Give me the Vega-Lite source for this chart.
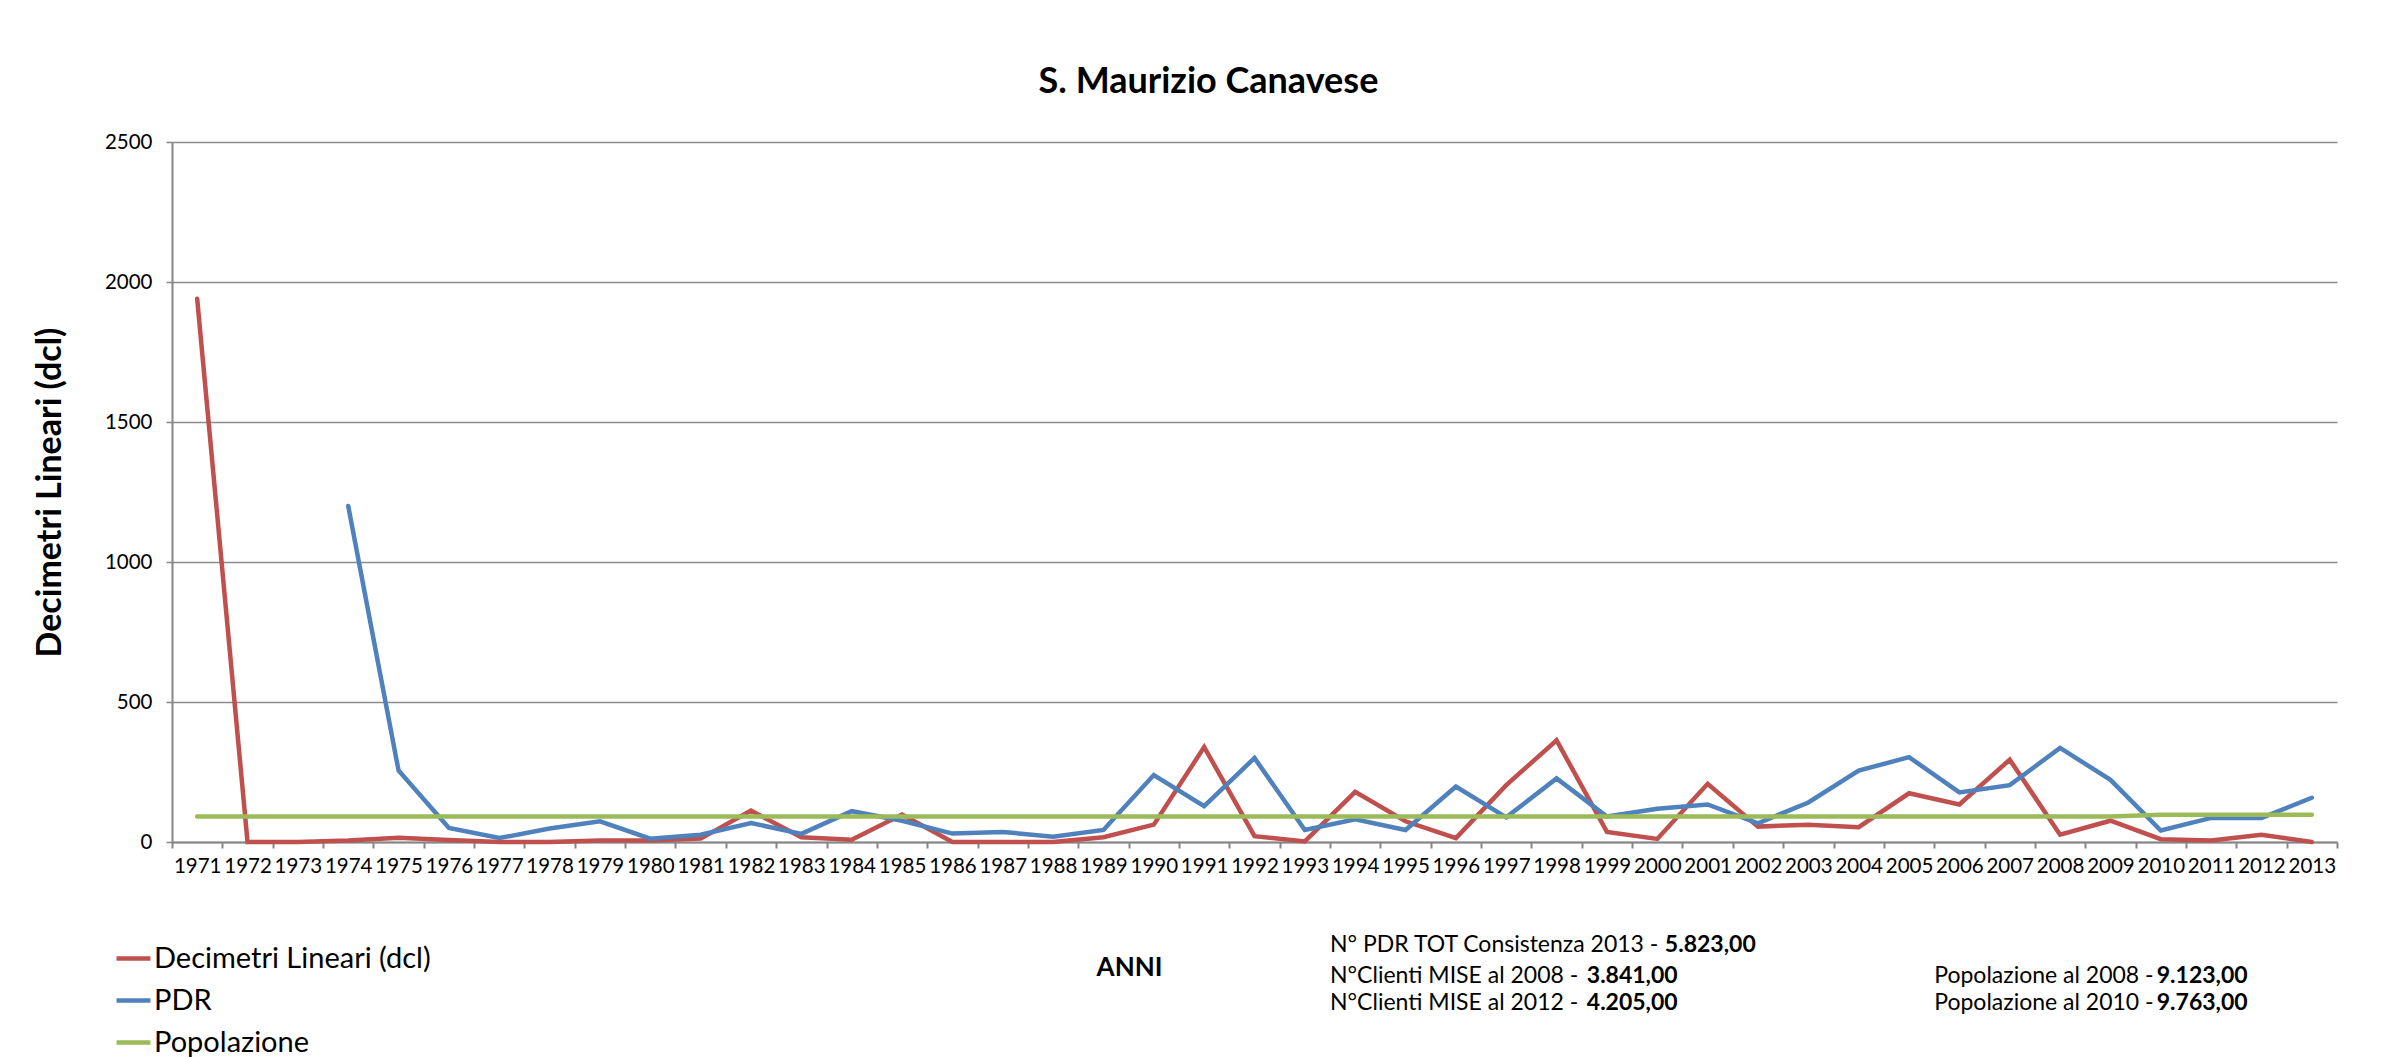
{
  "$schema": "https://vega.github.io/schema/vega-lite/v6.json",
  "width": 2165,
  "height": 700,
  "autosize": {"type": "none"},
  "padding": {"left": 172, "top": 142, "right": 56, "bottom": 215},
  "background": "white",
  "title": {
    "text": "S. Maurizio Canavese",
    "font": "Lato",
    "fontSize": 36,
    "fontWeight": "bold",
    "color": "black",
    "anchor": "middle",
    "dx": -46,
    "offset": 31
  },
  "data": {
    "values": [
      {"anno": 1971, "serie": "Decimetri Lineari (dcl)", "valore": 1940},
      {"anno": 1972, "serie": "Decimetri Lineari (dcl)", "valore": 0},
      {"anno": 1973, "serie": "Decimetri Lineari (dcl)", "valore": 0},
      {"anno": 1974, "serie": "Decimetri Lineari (dcl)", "valore": 5},
      {"anno": 1975, "serie": "Decimetri Lineari (dcl)", "valore": 15},
      {"anno": 1976, "serie": "Decimetri Lineari (dcl)", "valore": 7},
      {"anno": 1977, "serie": "Decimetri Lineari (dcl)", "valore": 0},
      {"anno": 1978, "serie": "Decimetri Lineari (dcl)", "valore": 0},
      {"anno": 1979, "serie": "Decimetri Lineari (dcl)", "valore": 5},
      {"anno": 1980, "serie": "Decimetri Lineari (dcl)", "valore": 5},
      {"anno": 1981, "serie": "Decimetri Lineari (dcl)", "valore": 12},
      {"anno": 1982, "serie": "Decimetri Lineari (dcl)", "valore": 112},
      {"anno": 1983, "serie": "Decimetri Lineari (dcl)", "valore": 17},
      {"anno": 1984, "serie": "Decimetri Lineari (dcl)", "valore": 8},
      {"anno": 1985, "serie": "Decimetri Lineari (dcl)", "valore": 98},
      {"anno": 1986, "serie": "Decimetri Lineari (dcl)", "valore": 0},
      {"anno": 1987, "serie": "Decimetri Lineari (dcl)", "valore": 0},
      {"anno": 1988, "serie": "Decimetri Lineari (dcl)", "valore": 0},
      {"anno": 1989, "serie": "Decimetri Lineari (dcl)", "valore": 17},
      {"anno": 1990, "serie": "Decimetri Lineari (dcl)", "valore": 62},
      {"anno": 1991, "serie": "Decimetri Lineari (dcl)", "valore": 339},
      {"anno": 1992, "serie": "Decimetri Lineari (dcl)", "valore": 21},
      {"anno": 1993, "serie": "Decimetri Lineari (dcl)", "valore": 2},
      {"anno": 1994, "serie": "Decimetri Lineari (dcl)", "valore": 179},
      {"anno": 1995, "serie": "Decimetri Lineari (dcl)", "valore": 74},
      {"anno": 1996, "serie": "Decimetri Lineari (dcl)", "valore": 14},
      {"anno": 1997, "serie": "Decimetri Lineari (dcl)", "valore": 203},
      {"anno": 1998, "serie": "Decimetri Lineari (dcl)", "valore": 363},
      {"anno": 1999, "serie": "Decimetri Lineari (dcl)", "valore": 36},
      {"anno": 2000, "serie": "Decimetri Lineari (dcl)", "valore": 11},
      {"anno": 2001, "serie": "Decimetri Lineari (dcl)", "valore": 208},
      {"anno": 2002, "serie": "Decimetri Lineari (dcl)", "valore": 55},
      {"anno": 2003, "serie": "Decimetri Lineari (dcl)", "valore": 62},
      {"anno": 2004, "serie": "Decimetri Lineari (dcl)", "valore": 53},
      {"anno": 2005, "serie": "Decimetri Lineari (dcl)", "valore": 174},
      {"anno": 2006, "serie": "Decimetri Lineari (dcl)", "valore": 134},
      {"anno": 2007, "serie": "Decimetri Lineari (dcl)", "valore": 294},
      {"anno": 2008, "serie": "Decimetri Lineari (dcl)", "valore": 26},
      {"anno": 2009, "serie": "Decimetri Lineari (dcl)", "valore": 76},
      {"anno": 2010, "serie": "Decimetri Lineari (dcl)", "valore": 10},
      {"anno": 2011, "serie": "Decimetri Lineari (dcl)", "valore": 5},
      {"anno": 2012, "serie": "Decimetri Lineari (dcl)", "valore": 26},
      {"anno": 2013, "serie": "Decimetri Lineari (dcl)", "valore": 0},
      {"anno": 1974, "serie": "PDR", "valore": 1200},
      {"anno": 1975, "serie": "PDR", "valore": 255},
      {"anno": 1976, "serie": "PDR", "valore": 50},
      {"anno": 1977, "serie": "PDR", "valore": 14},
      {"anno": 1978, "serie": "PDR", "valore": 48},
      {"anno": 1979, "serie": "PDR", "valore": 74},
      {"anno": 1980, "serie": "PDR", "valore": 12},
      {"anno": 1981, "serie": "PDR", "valore": 26},
      {"anno": 1982, "serie": "PDR", "valore": 68},
      {"anno": 1983, "serie": "PDR", "valore": 29},
      {"anno": 1984, "serie": "PDR", "valore": 110},
      {"anno": 1985, "serie": "PDR", "valore": 76},
      {"anno": 1986, "serie": "PDR", "valore": 30},
      {"anno": 1987, "serie": "PDR", "valore": 36},
      {"anno": 1988, "serie": "PDR", "valore": 19},
      {"anno": 1989, "serie": "PDR", "valore": 43},
      {"anno": 1990, "serie": "PDR", "valore": 239},
      {"anno": 1991, "serie": "PDR", "valore": 128},
      {"anno": 1992, "serie": "PDR", "valore": 300},
      {"anno": 1993, "serie": "PDR", "valore": 43},
      {"anno": 1994, "serie": "PDR", "valore": 81},
      {"anno": 1995, "serie": "PDR", "valore": 43},
      {"anno": 1996, "serie": "PDR", "valore": 198},
      {"anno": 1997, "serie": "PDR", "valore": 88},
      {"anno": 1998, "serie": "PDR", "valore": 227},
      {"anno": 1999, "serie": "PDR", "valore": 91},
      {"anno": 2000, "serie": "PDR", "valore": 119},
      {"anno": 2001, "serie": "PDR", "valore": 134},
      {"anno": 2002, "serie": "PDR", "valore": 67},
      {"anno": 2003, "serie": "PDR", "valore": 141},
      {"anno": 2004, "serie": "PDR", "valore": 255},
      {"anno": 2005, "serie": "PDR", "valore": 303},
      {"anno": 2006, "serie": "PDR", "valore": 177},
      {"anno": 2007, "serie": "PDR", "valore": 203},
      {"anno": 2008, "serie": "PDR", "valore": 336},
      {"anno": 2009, "serie": "PDR", "valore": 222},
      {"anno": 2010, "serie": "PDR", "valore": 41},
      {"anno": 2011, "serie": "PDR", "valore": 86},
      {"anno": 2012, "serie": "PDR", "valore": 86},
      {"anno": 2013, "serie": "PDR", "valore": 158},
      {"anno": 1971, "serie": "Popolazione", "valore": 91.23},
      {"anno": 1972, "serie": "Popolazione", "valore": 91.23},
      {"anno": 1973, "serie": "Popolazione", "valore": 91.23},
      {"anno": 1974, "serie": "Popolazione", "valore": 91.23},
      {"anno": 1975, "serie": "Popolazione", "valore": 91.23},
      {"anno": 1976, "serie": "Popolazione", "valore": 91.23},
      {"anno": 1977, "serie": "Popolazione", "valore": 91.23},
      {"anno": 1978, "serie": "Popolazione", "valore": 91.23},
      {"anno": 1979, "serie": "Popolazione", "valore": 91.23},
      {"anno": 1980, "serie": "Popolazione", "valore": 91.23},
      {"anno": 1981, "serie": "Popolazione", "valore": 91.23},
      {"anno": 1982, "serie": "Popolazione", "valore": 91.23},
      {"anno": 1983, "serie": "Popolazione", "valore": 91.23},
      {"anno": 1984, "serie": "Popolazione", "valore": 91.23},
      {"anno": 1985, "serie": "Popolazione", "valore": 91.23},
      {"anno": 1986, "serie": "Popolazione", "valore": 91.23},
      {"anno": 1987, "serie": "Popolazione", "valore": 91.23},
      {"anno": 1988, "serie": "Popolazione", "valore": 91.23},
      {"anno": 1989, "serie": "Popolazione", "valore": 91.23},
      {"anno": 1990, "serie": "Popolazione", "valore": 91.23},
      {"anno": 1991, "serie": "Popolazione", "valore": 91.23},
      {"anno": 1992, "serie": "Popolazione", "valore": 91.23},
      {"anno": 1993, "serie": "Popolazione", "valore": 91.23},
      {"anno": 1994, "serie": "Popolazione", "valore": 91.23},
      {"anno": 1995, "serie": "Popolazione", "valore": 91.23},
      {"anno": 1996, "serie": "Popolazione", "valore": 91.23},
      {"anno": 1997, "serie": "Popolazione", "valore": 91.23},
      {"anno": 1998, "serie": "Popolazione", "valore": 91.23},
      {"anno": 1999, "serie": "Popolazione", "valore": 91.23},
      {"anno": 2000, "serie": "Popolazione", "valore": 91.23},
      {"anno": 2001, "serie": "Popolazione", "valore": 91.23},
      {"anno": 2002, "serie": "Popolazione", "valore": 91.23},
      {"anno": 2003, "serie": "Popolazione", "valore": 91.23},
      {"anno": 2004, "serie": "Popolazione", "valore": 91.23},
      {"anno": 2005, "serie": "Popolazione", "valore": 91.23},
      {"anno": 2006, "serie": "Popolazione", "valore": 91.23},
      {"anno": 2007, "serie": "Popolazione", "valore": 91.23},
      {"anno": 2008, "serie": "Popolazione", "valore": 91.23},
      {"anno": 2009, "serie": "Popolazione", "valore": 91.23},
      {"anno": 2010, "serie": "Popolazione", "valore": 97.63},
      {"anno": 2011, "serie": "Popolazione", "valore": 97.63},
      {"anno": 2012, "serie": "Popolazione", "valore": 97.63},
      {"anno": 2013, "serie": "Popolazione", "valore": 97.63}
    ]
  },
  "layer": [
    {
      "mark": {"type": "line", "strokeWidth": 4.5, "strokeJoin": "miter", "strokeCap": "round"},
      "encoding": {
        "x": {
          "field": "anno",
          "type": "ordinal",
          "bandPosition": 0.5,
          "scale": {"type": "band", "paddingInner": 0, "paddingOuter": 0},
          "axis": {
            "title": "ANNI",
            "titleFont": "Lato",
            "titleFontSize": 26,
            "titleFontWeight": "bold",
            "titleColor": "black",
            "titleX": 957,
            "titleY": 125,
            "titleAlign": "center",
            "titleBaseline": "middle",
            "labelAngle": 0,
            "labelFont": "Lato",
            "labelFontSize": 20.5,
            "labelColor": "black",
            "labelPadding": 8,
            "labelOverlap": false,
            "tickBand": "extent",
            "tickSize": 6,
            "tickWidth": 2,
            "tickColor": "#868686",
            "domainColor": "#868686",
            "domainWidth": 2,
            "grid": false
          }
        },
        "y": {
          "field": "valore",
          "type": "quantitative",
          "scale": {"domain": [0, 2500], "nice": false},
          "axis": {
            "title": "Decimetri Lineari (dcl)",
            "titleFont": "Lato",
            "titleFontSize": 34,
            "titleFontWeight": "bold",
            "titleColor": "black",
            "titleAngle": -90,
            "titleX": -122,
            "titleY": 350,
            "titleAlign": "center",
            "titleBaseline": "middle",
            "values": [0, 500, 1000, 1500, 2000, 2500],
            "format": "d",
            "labelFont": "Lato",
            "labelFontSize": 20.5,
            "labelColor": "black",
            "labelPadding": 14,
            "tickSize": 6,
            "tickWidth": 1.5,
            "tickColor": "#868686",
            "domainColor": "#868686",
            "domainWidth": 2,
            "grid": true,
            "gridColor": "#8c8c8c",
            "gridWidth": 1.5
          }
        },
        "color": {
          "field": "serie",
          "type": "nominal",
          "scale": {
            "domain": ["Decimetri Lineari (dcl)", "PDR", "Popolazione"],
            "range": ["#C0504D", "#4F81BD", "#9BBB59"]
          },
          "legend": {
            "orient": "none",
            "legendX": -58,
            "legendY": 797,
            "direction": "vertical",
            "title": null,
            "symbolType": "stroke",
            "symbolStrokeWidth": 4.5,
            "symbolSize": 1150,
            "labelFont": "Lato",
            "labelFontSize": 29,
            "labelColor": "black",
            "labelLimit": 0,
            "labelOffset": 1,
            "rowPadding": 7
          }
        }
      }
    },
    {
      "data": {"values": [{}]},
      "mark": {"type": "text", "align": "left", "baseline": "middle", "font": "Lato", "fontSize": 23, "color": "black", "text": "N° PDR TOT Consistenza 2013 -"},
      "encoding": {"x": {"datum": 1994, "type": "ordinal", "bandPosition": 0}, "y": {"datum": -368, "type": "quantitative"}}
    },
    {
      "data": {"values": [{}]},
      "mark": {"type": "text", "align": "left", "baseline": "middle", "font": "Lato", "fontSize": 23, "fontWeight": "bold", "color": "black", "text": "5.823,00"},
      "encoding": {"x": {"datum": 2000, "type": "ordinal", "bandPosition": 0.65}, "y": {"datum": -368, "type": "quantitative"}}
    },
    {
      "data": {"values": [{}]},
      "mark": {"type": "text", "align": "left", "baseline": "middle", "font": "Lato", "fontSize": 23, "color": "black", "text": "N°Clienti MISE al 2008 -"},
      "encoding": {"x": {"datum": 1994, "type": "ordinal", "bandPosition": 0}, "y": {"datum": -478, "type": "quantitative"}}
    },
    {
      "data": {"values": [{}]},
      "mark": {"type": "text", "align": "left", "baseline": "middle", "font": "Lato", "fontSize": 23, "fontWeight": "bold", "color": "black", "text": "3.841,00"},
      "encoding": {"x": {"datum": 1999, "type": "ordinal", "bandPosition": 0.1}, "y": {"datum": -478, "type": "quantitative"}}
    },
    {
      "data": {"values": [{}]},
      "mark": {"type": "text", "align": "left", "baseline": "middle", "font": "Lato", "fontSize": 23, "color": "black", "text": "N°Clienti MISE al 2012 -"},
      "encoding": {"x": {"datum": 1994, "type": "ordinal", "bandPosition": 0}, "y": {"datum": -575, "type": "quantitative"}}
    },
    {
      "data": {"values": [{}]},
      "mark": {"type": "text", "align": "left", "baseline": "middle", "font": "Lato", "fontSize": 23, "fontWeight": "bold", "color": "black", "text": "4.205,00"},
      "encoding": {"x": {"datum": 1999, "type": "ordinal", "bandPosition": 0.1}, "y": {"datum": -575, "type": "quantitative"}}
    },
    {
      "data": {"values": [{}]},
      "mark": {"type": "text", "align": "left", "baseline": "middle", "font": "Lato", "fontSize": 23, "color": "black", "text": "Popolazione al 2008 -"},
      "encoding": {"x": {"datum": 2006, "type": "ordinal", "bandPosition": 0}, "y": {"datum": -478, "type": "quantitative"}}
    },
    {
      "data": {"values": [{}]},
      "mark": {"type": "text", "align": "left", "baseline": "middle", "font": "Lato", "fontSize": 23, "fontWeight": "bold", "color": "black", "text": "9.123,00"},
      "encoding": {"x": {"datum": 2010, "type": "ordinal", "bandPosition": 0.42}, "y": {"datum": -478, "type": "quantitative"}}
    },
    {
      "data": {"values": [{}]},
      "mark": {"type": "text", "align": "left", "baseline": "middle", "font": "Lato", "fontSize": 23, "color": "black", "text": "Popolazione al 2010 -"},
      "encoding": {"x": {"datum": 2006, "type": "ordinal", "bandPosition": 0}, "y": {"datum": -575, "type": "quantitative"}}
    },
    {
      "data": {"values": [{}]},
      "mark": {"type": "text", "align": "left", "baseline": "middle", "font": "Lato", "fontSize": 23, "fontWeight": "bold", "color": "black", "text": "9.763,00"},
      "encoding": {"x": {"datum": 2010, "type": "ordinal", "bandPosition": 0.42}, "y": {"datum": -575, "type": "quantitative"}}
    }
  ],
  "config": {
    "view": {"stroke": null},
    "font": "Lato"
  }
}
